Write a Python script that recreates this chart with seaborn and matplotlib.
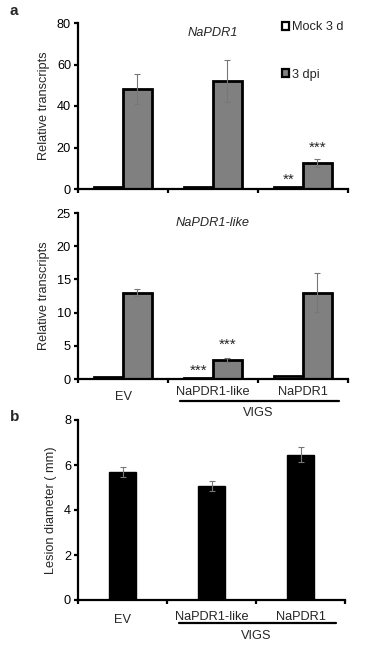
import matplotlib
matplotlib.use("Agg")
import matplotlib.pyplot as plt
import matplotlib.transforms as mtrans
from matplotlib.patches import Patch
import pandas as pd
import seaborn as sns

sns.set_style("white")
plt.rcParams['font.family'] = ['Liberation Sans', 'DejaVu Sans']

groups = ["EV", "NaPDR1-like", "NaPDR1"]
treatments = ["Mock 3 d", "3 dpi"]

# panel a, top: NaPDR1 transcripts
pdr1_mock = [1.0, 1.0, 0.8]
pdr1_mock_err = [0.0, 0.0, 0.0]
pdr1_dpi = [48.0, 52.0, 12.5]
pdr1_dpi_err = [7.2, 10.2, 1.9]

# panel a, bottom: NaPDR1-like transcripts
like_mock = [0.3, 0.1, 0.5]
like_mock_err = [0.0, 0.0, 0.0]
like_dpi = [13.0, 2.8, 13.0]
like_dpi_err = [0.55, 0.3, 2.9]

# panel b: lesion diameter
lesion = [5.7, 5.05, 6.45]
lesion_err = [0.22, 0.22, 0.33]

W, H = 367, 646
FS = 9.2
fig = plt.figure(figsize=(W / 100, H / 100), dpi=100)


def ax_at(x0, y_top, x1, y_bot):
    return fig.add_axes([x0 / W, 1 - y_bot / H, (x1 - x0) / W, (y_bot - y_top) / H])


def style_axes(ax, ymax, ystep):
    ax.set_xlim(-0.5, 2.5)
    ax.set_ylim(0, ymax)
    ax.set_yticks(range(0, ymax + 1, ystep))
    ax.set_xticks([-0.5, 0.5, 1.5, 2.5])
    ax.set_xticklabels([])
    for s in ["top", "right"]:
        ax.spines[s].set_visible(False)
    for s in ["left", "bottom"]:
        ax.spines[s].set_linewidth(1.6)
        ax.spines[s].set_color("black")
    ax.tick_params(axis="both", direction="out", length=3, width=1.6,
                   labelsize=FS, colors="black", left=True, bottom=True)
    ax.tick_params(axis="y", pad=2)
    ax.set_xlabel("")
    ax.set_ylabel("Relative transcripts", fontsize=FS, labelpad=5)


def grouped(ax, mock, mock_err, dpi, dpi_err):
    df = pd.DataFrame({
        "group": groups * 2,
        "treat": [treatments[0]] * 3 + [treatments[1]] * 3,
        "value": mock + dpi,
    })
    sns.barplot(data=df, x="group", y="value", hue="treat", order=groups,
                hue_order=treatments, palette=["white", "#808080"],
                width=0.64, errorbar=None, edgecolor="black", linewidth=2,
                legend=False, ax=ax)
    errs = mock_err + dpi_err
    vals = mock + dpi
    for p, v, e in zip(ax.patches, vals, errs):
        if e > 0:
            ax.errorbar(p.get_x() + p.get_width() / 2, v, yerr=e, fmt="none",
                        ecolor="#777777", elinewidth=0.8, capsize=2, capthick=0.8)
    return ax.patches


def vigs_labels(ax, y_lab, y_ev, y_line, y_vigs):
    tr = mtrans.blended_transform_factory(ax.transData, ax.transAxes)
    ax.text(0, y_ev, "EV", transform=tr, ha="center", va="center", fontsize=FS)
    ax.text(1, y_lab, "NaPDR1-like", transform=tr, ha="center", va="center", fontsize=FS)
    ax.text(2, y_lab, "NaPDR1", transform=tr, ha="center", va="center", fontsize=FS)
    ax.plot([0.63, 2.4], [y_line, y_line], transform=tr, color="black",
            lw=1.6, clip_on=False)
    ax.text(1.5, y_vigs, "VIGS", transform=tr, ha="center", va="center", fontsize=FS)


# ---- panel a top ----
ax1 = ax_at(78, 23, 348, 189)
bars1 = grouped(ax1, pdr1_mock, pdr1_mock_err, pdr1_dpi, pdr1_dpi_err)
style_axes(ax1, 80, 20)
ax1.text(1.0, 75, "NaPDR1", style="italic", ha="center", va="center", fontsize=FS)
ax1.text(bars1[2].get_x() + bars1[2].get_width() / 2, pdr1_mock[2] + 0.5, "**",
         ha="center", va="bottom", fontsize=11)
ax1.text(bars1[5].get_x() + bars1[5].get_width() / 2, pdr1_dpi[2] + pdr1_dpi_err[2] + 2,
         "***", ha="center", va="bottom", fontsize=11)
handles = [Patch(facecolor="white", edgecolor="black", linewidth=1.6),
           Patch(facecolor="#808080", edgecolor="black", linewidth=1.6)]
ax1.legend(handles, treatments, loc="upper left", bbox_to_anchor=(0.735, 1.04),
           frameon=False, fontsize=FS, handlelength=0.6, handleheight=0.6,
           handletextpad=0.2, labelspacing=2.75, borderaxespad=0)

# ---- panel a bottom ----
ax2 = ax_at(78, 213, 348, 379)
bars2 = grouped(ax2, like_mock, like_mock_err, like_dpi, like_dpi_err)
style_axes(ax2, 25, 5)
ax2.text(1.0, 23.5, "NaPDR1-like", style="italic", ha="center", va="center", fontsize=FS)
ax2.text(bars2[1].get_x() + bars2[1].get_width() / 2, like_mock[1] + 0.1, "***",
         ha="center", va="bottom", fontsize=11)
ax2.text(bars2[4].get_x() + bars2[4].get_width() / 2, like_dpi[1] + like_dpi_err[1] + 1.0,
         "***", ha="center", va="bottom", fontsize=11)
vigs_labels(ax2, -0.08, -0.11, -0.13, -0.205)

# ---- panel b ----
ax3 = ax_at(78, 420, 345, 600)
df_b = pd.DataFrame({"group": groups, "value": lesion})
sns.barplot(data=df_b, x="group", y="value", order=groups, color="black",
            width=0.31, errorbar=None, edgecolor="black", ax=ax3)
for p, v, e in zip(ax3.patches, lesion, lesion_err):
    ax3.errorbar(p.get_x() + p.get_width() / 2, v, yerr=e, fmt="none",
                 ecolor="#777777", elinewidth=0.8, capsize=2, capthick=0.8)
style_axes(ax3, 8, 2)
ax3.set_ylabel("Lesion diameter ( mm)", fontsize=FS, labelpad=5)
vigs_labels(ax3, -0.095, -0.11, -0.125, -0.2)

fig.text(10 / W, 1 - 11 / H, "a", fontsize=11, fontweight="bold", va="center")
fig.text(10 / W, 1 - 417 / H, "b", fontsize=11, fontweight="bold", va="center")

fig.savefig("out.png", dpi=100)
